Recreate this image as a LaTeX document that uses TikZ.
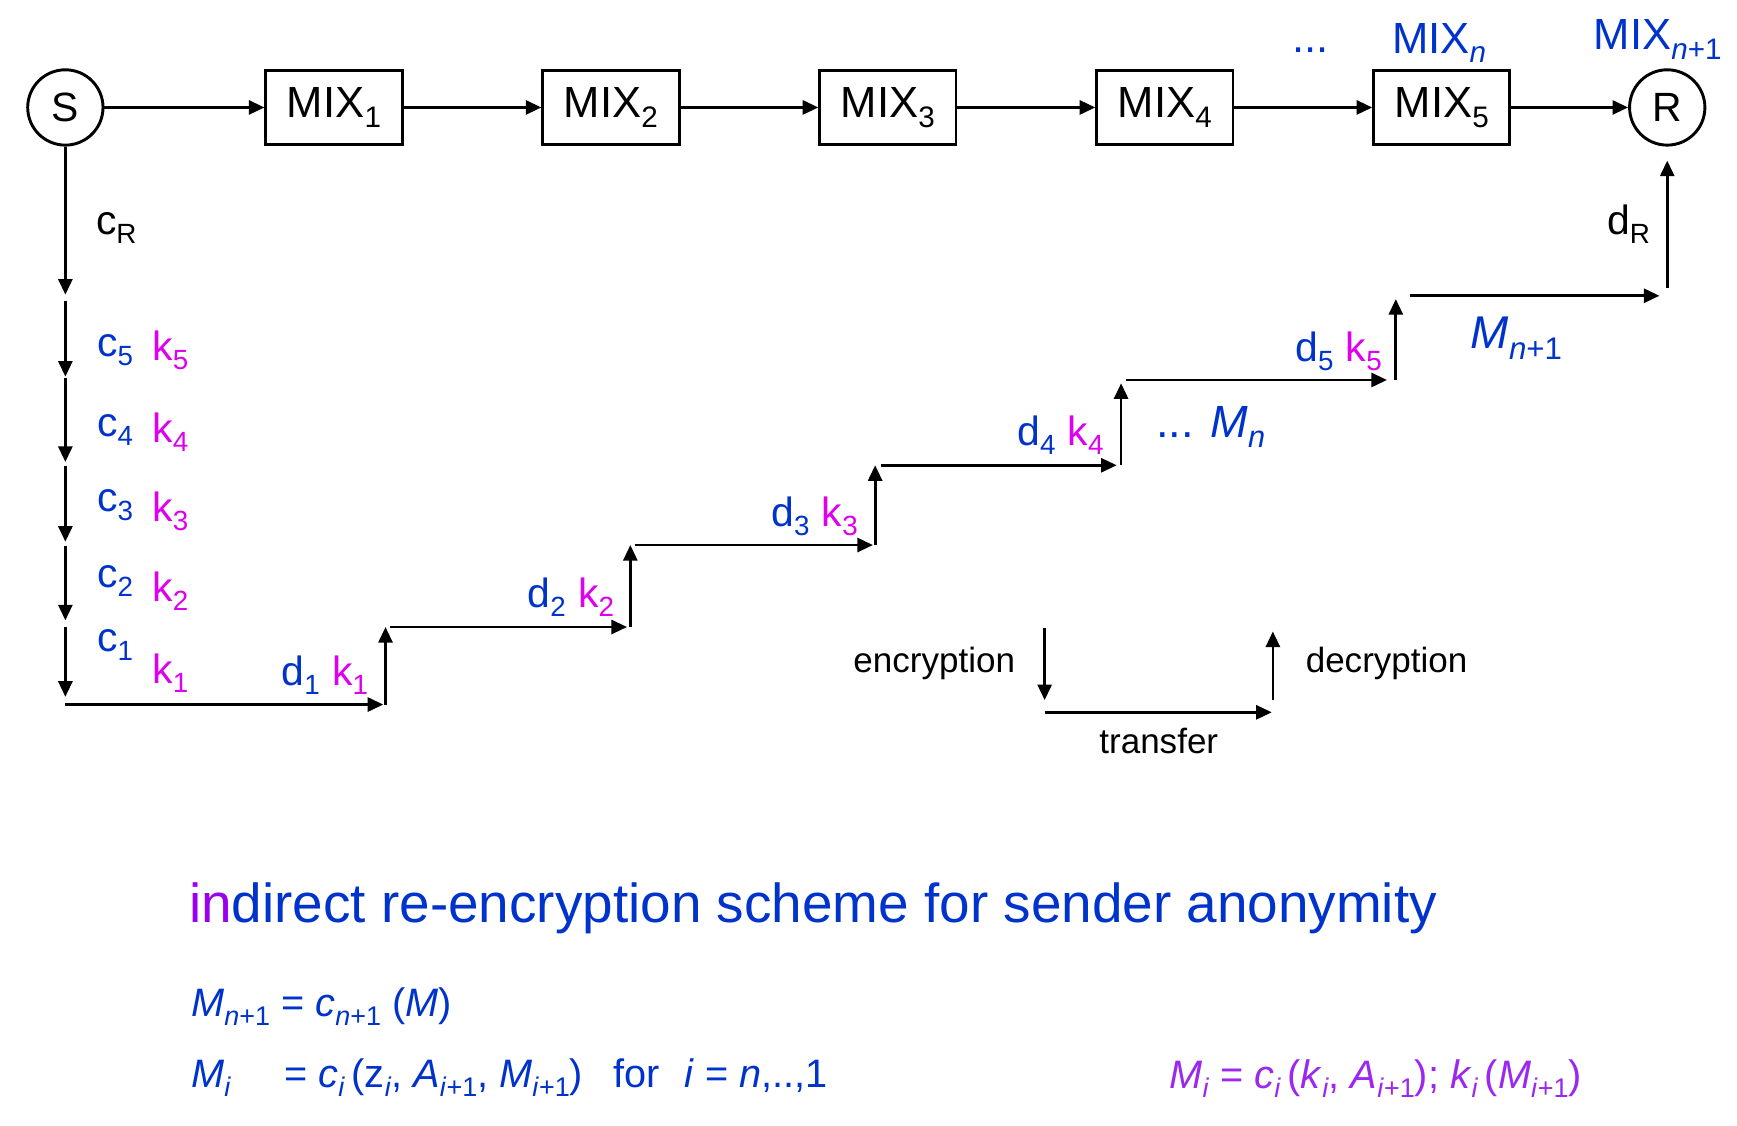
\documentclass[tikz,border=0pt]{standalone}
\usepackage{fontspec}
\setmainfont{Liberation Sans}
\usepackage{graphicx}
\usetikzlibrary{arrows.meta}

\definecolor{mixblue}{RGB}{0,51,204}
\definecolor{keypink}{RGB}{221,0,238}
\definecolor{inviolet}{RGB}{153,0,238}
\definecolor{formviolet}{RGB}{155,40,240}

\newcommand{\lo}[1]{\raisebox{-0.22em}{\scalebox{0.68}{#1}}}
\newcommand{\fs}[1]{\fontsize{#1}{#1}\selectfont}

\begin{document}
\begin{tikzpicture}[x=1cm,y=-1cm,
    >={Triangle[length=4pt,width=3.6pt]},
    flow/.style={->,line width=0.7pt},
    mixbox/.style={draw,line width=0.75pt,minimum width=1.23cm,minimum height=0.67cm,inner sep=0pt,font=\fs{11.2pt}},
    party/.style={draw,circle,line width=0.75pt,minimum size=0.68cm,inner sep=0pt,font=\fs{10.5pt}},
    lbl/.style={inner sep=0pt,anchor=base west,font=\fs{10.5pt}},
    small/.style={inner sep=0pt,font=\fs{9pt}},
    form/.style={inner sep=0pt,anchor=base west,font=\fs{10.2pt}}]
    \useasboundingbox (0,0) rectangle (15.68,10.16);

    % mixes
    \node[party] (S) at (0.59,0.97) {S};
    \foreach \i in {1,...,5}
        \node[mixbox] (mix\i) at ({0.515+2.5*\i},0.97) {MIX\lo{\i}};
    \node[party] (R) at (15.05,0.97) {R};
    \draw[flow] (S) -- (mix1);
    \foreach \i [evaluate=\i as \j using int(\i+1)] in {1,...,4}
        \draw[flow] (mix\i) -- (mix\j);
    \draw[flow] (mix5) -- (R);
    \node[lbl,text=mixblue,font=\fs{11.2pt}] (dotstop) at (11.66,0.47) {...};
    \node[lbl,text=mixblue,font=\fs{11.2pt}] (mixn) at (12.56,0.48) {MIX\lo{\textit{n}}};
    \node[lbl,text=mixblue,font=\fs{11.2pt}] (mixnn) at (14.38,0.45) {MIX\lo{\textit{n}+1}};

    % encryption by the sender
    \coordinate (cR) at (0.59,2.66);
    \draw[flow] (S) -- (cR);
    \node[lbl] (cRlbl) at (0.86,2.12) {c\lo{R}};
    \foreach \a/\b [count=\n] in {2.72/3.40,3.41/4.17,4.21/4.89,4.93/5.60,5.66/6.29} {
        \coordinate (ct\n) at (0.59,\a);
        \coordinate (cb\n) at (0.59,\b);
        \draw[flow] (ct\n) -- (cb\n);
    }
    \foreach \i/\cy/\ky in {5/3.22/3.25,4/3.94/3.99,3/4.62/4.71,2/5.30/5.43,1/5.88/6.17} {
        \node[lbl,text=mixblue] (c\i) at (0.87,\cy) {c\lo{\i}};
        \node[lbl,text=keypink] (k\i) at (1.37,\ky) {k\lo{\i}};
    }

    % transfer and decryption
    \foreach \n/\ax/\ay/\bx/\by in {1/0.59/6.36/3.46/6.36, 2/3.48/6.36/3.48/5.66,
        3/3.52/5.66/5.66/5.66, 4/5.69/5.66/5.69/4.92, 5/5.73/4.92/7.88/4.92,
        6/7.90/4.92/7.90/4.20, 7/7.95/4.20/10.08/4.20, 8/10.12/4.20/10.12/3.46,
        9/10.16/3.43/12.52/3.43, 10/12.60/3.43/12.60/2.70, 11/12.73/2.67/14.98/2.67} {
        \coordinate (sa\n) at (\ax,\ay);
        \coordinate (sb\n) at (\bx,\by);
        \draw[flow] (sa\n) -- (sb\n);
    }
    \coordinate (dR) at (15.05,2.60);
    \draw[flow,shorten >=3.6pt] (dR) -- (R);
    \foreach \i/\x/\y in {1/3.33/6.19,2/5.55/5.48,3/7.75/4.75,4/9.97/4.02,5/12.48/3.26}
        \node[lbl,anchor=base east] (d\i) at (\x,\y)
            {\textcolor{mixblue}{d\lo{\i}}\hspace{0.3em}\textcolor{keypink}{k\lo{\i}}};
    \node[lbl,text=mixblue,font=\fs{11.6pt}] (Mn) at (10.43,3.95) {... \textit{M}\lo{\textit{n}}};
    \node[lbl,text=mixblue,font=\fs{11.8pt}] (Mnn) at (13.27,3.15) {\textit{M}\lo{\textit{n}+1}};
    \node[lbl] (dRlbl) at (14.50,2.12) {d\lo{R}};

    % legend
    \coordinate (ea) at (9.43,5.67);
    \coordinate (eb) at (9.43,6.32);
    \coordinate (ta) at (9.43,6.43);
    \coordinate (tb) at (11.48,6.43);
    \coordinate (da) at (11.49,6.32);
    \coordinate (db) at (11.49,5.70);
    \draw[flow] (ea) -- (eb);
    \draw[flow] (ta) -- (tb);
    \draw[flow] (da) -- (db);
    \node[small,anchor=base east] (enc) at (9.17,6.07) {encryption};
    \node[small,anchor=base west] (dec) at (11.78,6.07) {decryption};
    \node[small,anchor=base] (trans) at (10.46,6.80) {transfer};

    % scheme
    \node[form,font=\fs{14.1pt}] (title) at (1.70,8.33)
        {\textcolor{inviolet}{in}\textcolor{mixblue}{direct re-encryption scheme for sender anonymity}};
    \node[form,text=mixblue] (f1) at (1.72,9.18)
        {\textit{M}\lo{\textit{n}+1} = \textit{c}\lo{\textit{n}+1} (\textit{M})};
    \node[form,text=mixblue] (f2) at (1.72,9.82) {\textit{M}\lo{\textit{i}}};
    \node[form,text=mixblue] (f2eq) at (2.56,9.82)
        {= \textit{c}\lo{\textit{i}}\,(z\lo{\textit{i}}, \textit{A}\lo{\textit{i}+1}, \textit{M}\lo{\textit{i}+1})};
    \node[form,text=mixblue] (f2for) at (5.53,9.82) {for};
    \node[form,text=mixblue] (f2rng) at (6.17,9.82) {\textit{i} = \textit{n},..,1};
    \node[form,text=formviolet] (f3) at (10.55,9.83)
        {\textit{M}\lo{\textit{i}} = \textit{c}\lo{\textit{i}}\,(\textit{k}\lo{\textit{i}}, \textit{A}\lo{\textit{i}+1}); \textit{k}\lo{\textit{i}}\,(\textit{M}\lo{\textit{i}+1})};
\end{tikzpicture}
\end{document}
